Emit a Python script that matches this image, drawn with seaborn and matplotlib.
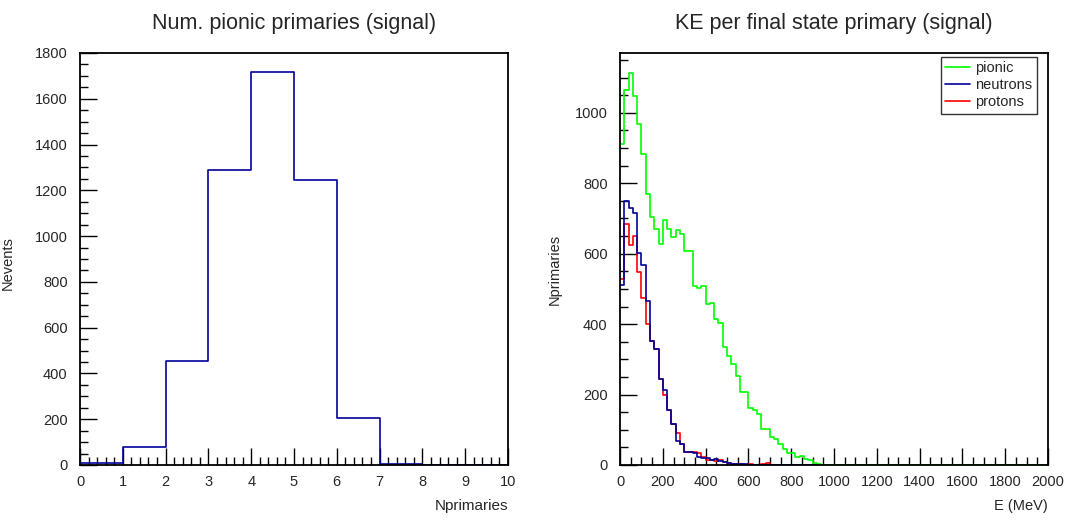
import numpy as np
import pandas as pd
import matplotlib
matplotlib.use("Agg")
import matplotlib.pyplot as plt
from matplotlib.lines import Line2D
from matplotlib.ticker import MultipleLocator
import seaborn as sns

# Left panel: number of pionic primaries per event (bins of width 1, 0..10)
npi_edges = list(range(0, 11))
npi_counts = [8, 79, 454, 1289, 1717, 1245, 205, 4, 1, 0]

# Right panel: kinetic energy per final-state primary, 20 MeV bins 0..2000
ke_edges = list(range(0, 2001, 20))
pionic = [911, 1064, 1112, 1048, 968, 883, 770, 705, 670, 628,
          696, 670, 647, 666, 656, 607, 607, 508, 504, 508,
          457, 461, 416, 402, 336, 309, 287, 253, 207, 207,
          163, 156, 146, 103, 103, 80, 73, 61, 46, 35,
          35, 24, 26, 18, 14, 5, 2, 1] + [0] * 52
neutrons = [510, 750, 730, 715, 602, 569, 467, 352, 328, 244,
            212, 156, 115, 68, 61, 38, 38, 33, 24, 19,
            19, 13, 17, 10, 8, 5, 4, 3, 2, 2,
            1, 1] + [0] * 68
protons = [529, 685, 625, 651, 547, 474, 399, 352, 328, 244,
           198, 156, 115, 92, 61, 38, 36, 38, 34, 24,
           13, 13, 10, 13, 8, 5, 4, 3, 2, 1,
           2, 1, 1, 2, 5, 1] + [0] * 64

series_names = ["pionic", "neutrons", "protons"]
colors = {"pionic": "#00ff00", "neutrons": "#000099", "protons": "#ff0000"}
hist_blue = "#000099"

sns.set_style("ticks")
plt.rcParams["font.family"] = ["Liberation Sans", "DejaVu Sans"]

fig = plt.figure(figsize=(10.74, 5.21), dpi=100)
ax1 = fig.add_axes([0.0745, 0.1075, 0.3985, 0.7908])
ax2 = fig.add_axes([0.5773, 0.1075, 0.3985, 0.7908])

# left histogram
npi_centers = [e + 0.5 for e in npi_edges[:-1]]
sns.histplot(x=npi_centers, weights=npi_counts, bins=npi_edges, element="step",
             fill=False, color=hist_blue, linewidth=1.2, ax=ax1)

# right histograms
ke_centers = [e + 10 for e in ke_edges[:-1]]
df = pd.DataFrame({
    "E": ke_centers * 3,
    "n": pionic + neutrons + protons,
    "kind": sum([[s] * len(ke_centers) for s in series_names], []),
})
sns.histplot(data=df, x="E", weights="n", hue="kind", hue_order=series_names,
             bins=ke_edges, element="step", fill=False, palette=colors,
             linewidth=1.2, legend=False, ax=ax2)

handles = [Line2D([], [], color=colors[s], lw=1.2) for s in series_names]
leg = ax2.legend(handles, series_names, loc="upper right",
                 bbox_to_anchor=(0.974, 0.99), fontsize=10.5, frameon=True,
                 fancybox=False, handlelength=1.7, handletextpad=0.35,
                 borderpad=0.3, labelspacing=0.2, borderaxespad=0)
leg.get_frame().set_edgecolor("black")
leg.get_frame().set_linewidth(1.0)

def style(ax, xlim, ylim, xmaj, xmin, ymaj, ymin):
    ax.set_xlim(*xlim)
    ax.set_ylim(*ylim)
    ax.xaxis.set_major_locator(MultipleLocator(xmaj))
    ax.xaxis.set_minor_locator(MultipleLocator(xmin))
    ax.yaxis.set_major_locator(MultipleLocator(ymaj))
    ax.yaxis.set_minor_locator(MultipleLocator(ymin))
    ax.tick_params(which="both", direction="in", top=False, right=False,
                   labelsize=10.5, color="black", width=1.0)
    ax.tick_params(which="major", length=12)
    ax.tick_params(which="minor", length=6)
    ax.tick_params(axis="y", pad=9)
    ax.tick_params(axis="x", pad=7)
    for sp in ax.spines.values():
        sp.set_visible(True)
        sp.set_color("black")
        sp.set_linewidth(1.3)
    ax.set_facecolor("white")

style(ax1, (0, 10), (0, 1800), 1, 0.2, 200, 50)
style(ax2, (0, 2000), (0, 1170), 200, 50, 200, 50)

ax1.set_title("Num. pionic primaries (signal)", fontsize=15.5, pad=17)
ax2.set_title("KE per final state primary (signal)", fontsize=15.5, pad=17)

ax1.set_xlabel("Nprimaries", fontsize=11, loc="right")
ax1.xaxis.set_label_coords(1.0, -0.083)
ax1.set_ylabel("Nevents", fontsize=10.5)
ax1.yaxis.set_label_coords(-0.152, 0.49)

ax2.set_xlabel("E (MeV)", fontsize=10.5, loc="right")
ax2.xaxis.set_label_coords(1.0, -0.083)
ax2.set_ylabel("Nprimaries", fontsize=10.5)
ax2.yaxis.set_label_coords(-0.1355, 0.475)

fig.savefig("out.png", dpi=100, facecolor="white")
